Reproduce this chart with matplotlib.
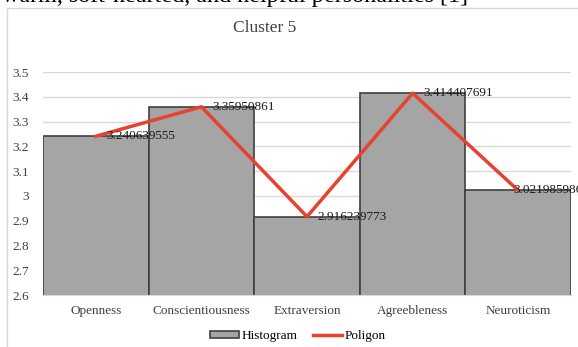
import matplotlib.pyplot as plt
from matplotlib.patches import Rectangle

traits = ["Openness", "Conscientiousness", "Extraversion", "Agreebleness", "Neuroticism"]
scores = [3.240639555, 3.35950861, 2.916239773, 3.414407691, 3.021985986]
score_labels = ["3.240639555", "3.35950861", "2.916239773", "3.414407691", "3.021985986"]
yticks = [2.6, 2.7, 2.8, 2.9, 3, 3.1, 3.2, 3.3, 3.4, 3.5]
ytick_labels = ["2.6", "2.7", "2.8", "2.9", "3", "3.1", "3.2", "3.3", "3.4", "3.5"]

plt.rcParams['font.family'] = ['Liberation Serif', 'DejaVu Serif']

fig = plt.figure(figsize=(5.78, 3.47), dpi=100)
ax = fig.add_axes([43 / 578, 1 - 295 / 347, 528 / 578, 223 / 347])

# 上面一段正文只露出下半截
fig.text(2 / 578, 1 - 2 / 347, "warm, soft-hearted, and helpful personalities [1]",
         fontsize=17.4, ha='left', va='baseline', color='black')

# 图表外框（右边和下边在画面外）
fig.patches.append(Rectangle((7 / 578, -0.1), 1.2, 1.1 - 8 / 347, transform=fig.transFigure,
                             fill=False, edgecolor='#d9d9d9', linewidth=1))

x = range(len(traits))
bars = ax.bar(x, scores, width=1.0, color='#a5a5a5', edgecolor='#404040', linewidth=1.2,
              label='Histogram', zorder=2)
line, = ax.plot(x, scores, color='#e8412f', linewidth=2.5, label='Poligon', zorder=3)
for i, (v, s) in enumerate(zip(scores, score_labels)):
    # 最后一个标签往左挪一点，贴着折线端点
    dx = 0.1 if i < len(scores) - 1 else -0.05
    ax.text(i + dx, v, s, fontsize=9.5, ha='left', va='center', color='#1a1a1a', zorder=4,
            clip_on=False)

ax.set_xlim(-0.5, len(traits) - 0.5)
ax.set_ylim(2.6, 3.5)
ax.set_yticks(yticks)
ax.set_yticklabels(ytick_labels)
ax.set_xticks(list(x))
ax.set_xticklabels(traits)
ax.tick_params(axis='both', length=0, labelsize=9.5, colors='#404040')
ax.tick_params(axis='y', pad=10)
ax.tick_params(axis='x', pad=7)
ax.grid(axis='y', color='#d9d9d9', linewidth=1, zorder=0)
ax.set_axisbelow(True)
for side in ['top', 'right', 'left']:
    ax.spines[side].set_visible(False)
ax.spines['bottom'].set_color('#d9d9d9')

fig.text(265 / 578, 1 - 28 / 347, "Cluster 5", fontsize=12.5, ha='center', va='center',
         color='#404040')

fig.legend([bars, line], ['Histogram', 'Poligon'], loc='center',
           bbox_to_anchor=(298 / 578, 1 - 336 / 347), ncol=2,
           frameon=False, fontsize=9.5, handlelength=2.2, handleheight=0.5, handletextpad=0.2,
           columnspacing=1.2, borderpad=0)

fig.savefig("out.png", dpi=100)
